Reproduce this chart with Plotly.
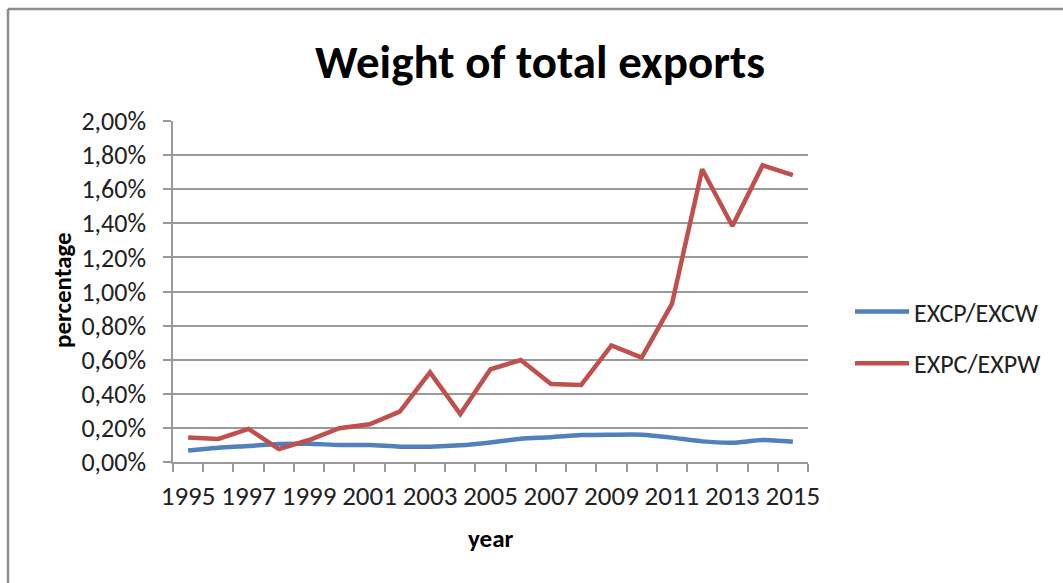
import plotly.graph_objects as go

years = list(range(1995, 2016))
excp_excw = [0.068, 0.084, 0.094, 0.106, 0.107, 0.100, 0.100, 0.090, 0.090, 0.098,
             0.115, 0.137, 0.145, 0.158, 0.160, 0.160, 0.143, 0.121, 0.113, 0.129, 0.119]
expc_expw = [0.143, 0.135, 0.194, 0.076, 0.129, 0.198, 0.221, 0.295, 0.526, 0.281,
             0.544, 0.598, 0.457, 0.452, 0.684, 0.612, 0.927, 1.717, 1.384, 1.740, 1.683]

y_tickvals = [0.0, 0.2, 0.4, 0.6, 0.8, 1.0, 1.2, 1.4, 1.6, 1.8, 2.0]
y_ticktext = ["0,00%", "0,20%", "0,40%", "0,60%", "0,80%", "1,00%",
              "1,20%", "1,40%", "1,60%", "1,80%", "2,00%"]
x_tickvals = list(range(1995, 2016, 2))
x_ticktext = [str(v) for v in x_tickvals]

FONT = "Carlito, Lato, Liberation Sans, sans-serif"
GRID = "#9a9a9a"

W, H = 1063, 583
L, R, T, B = 173, 808, 121, 462

fig = go.Figure()
fig.add_trace(go.Scatter(x=years, y=excp_excw, mode="lines", name="EXCP/EXCW",
                         line=dict(color="#4F81BD", width=4.5, shape="spline", smoothing=0.6),
                         legendgroup="a"))
fig.add_trace(go.Scatter(x=years, y=expc_expw, mode="lines", name="EXPC/EXPW",
                         line=dict(color="#C0504D", width=4.5),
                         legendgroup="b"))

pw, ph = R - L, B - T
def px_x(x):
    return (x - L) / pw
def px_y(y):
    return (B - y) / ph

fig.update_layout(
    width=W, height=H,
    margin=dict(l=L, r=W - R, t=T, b=H - B),
    paper_bgcolor="white", plot_bgcolor="white",
    font=dict(family=FONT, size=26, color="#222222"),
    title=dict(text="<b>Weight of total exports</b>", x=540 / W, xanchor="center",
               y=1 - 62 / H, yanchor="middle", xref="container", yref="container",
               font=dict(family=FONT, size=47, color="#000000")),
    showlegend=True,
    legend=dict(x=px_x(850), y=px_y(288), xanchor="left", yanchor="top",
                font=dict(family=FONT, size=26, color="#222222"),
                tracegroupgap=15, bgcolor="rgba(0,0,0,0)", itemwidth=54),
    xaxis=dict(range=[1994.5, 2015.5], tickmode="array", tickvals=x_tickvals, ticktext=x_ticktext,
               ticks="", showgrid=False, showline=True, linecolor=GRID, linewidth=1.5,
               zeroline=False, ticklabelstandoff=9,
               minor=dict(tick0=1994.5, dtick=1, ticks="outside", ticklen=8, tickcolor=GRID,
                          tickwidth=1.5, showgrid=False),
               tickfont=dict(family=FONT, size=27, color="#222222")),
    yaxis=dict(range=[0, 2.0], tickmode="array", tickvals=y_tickvals, ticktext=y_ticktext,
               ticks="outside", ticklen=8, tickcolor=GRID, tickwidth=1.5,
               showgrid=True, gridcolor=GRID, gridwidth=1.5,
               showline=True, linecolor=GRID, linewidth=1.5, zeroline=False,
               ticklabelstandoff=12,
               tickfont=dict(family=FONT, size=26, color="#222222")),
    annotations=[
        dict(text="<b>percentage</b>", xref="paper", yref="paper", x=px_x(62), y=px_y(290),
             showarrow=False, textangle=-90, xanchor="center", yanchor="middle",
             font=dict(family=FONT, size=25, color="#000000")),
        dict(text="<b>year</b>", xref="paper", yref="paper", x=px_x(490), y=px_y(538),
             showarrow=False, xanchor="center", yanchor="middle",
             font=dict(family=FONT, size=25, color="#000000")),
    ],
    shapes=[
        dict(type="line", xref="paper", yref="paper", x0=px_x(8), x1=px_x(1070),
             y0=px_y(9), y1=px_y(9), line=dict(color="#8c8c8c", width=2.5), layer="below"),
        dict(type="line", xref="paper", yref="paper", x0=px_x(8), x1=px_x(8),
             y0=px_y(9), y1=px_y(590), line=dict(color="#8c8c8c", width=2.5), layer="below"),
    ],
)

fig.write_html("out.html", config={"displayModeBar": False},
               post_script="document.body.style.margin='0';document.body.style.overflow='hidden';")
